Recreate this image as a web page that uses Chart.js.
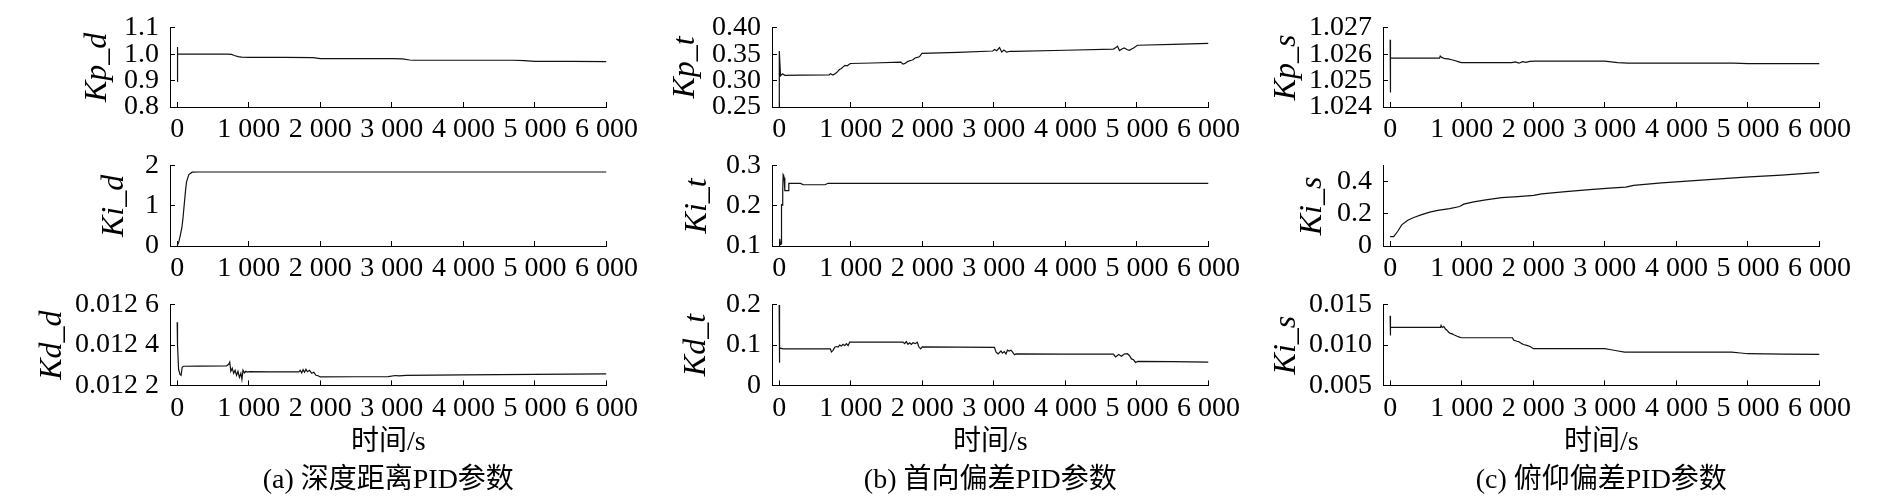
<!DOCTYPE html>
<html><head><meta charset="utf-8">
<script src="https://cdn.jsdelivr.net/npm/chart.js@4/dist/chart.umd.min.js"></script>
<style>
html,body{margin:0;padding:0;background:#fff;}
body{width:1890px;height:498px;overflow:hidden;position:relative;}
canvas{position:absolute;}
</style></head><body>
<script>
// ---------- data ----------
const xTicks = [0, 1000, 2000, 3000, 4000, 5000, 6000];
const xTickLabels = ['0', '1 000', '2 000', '3 000', '4 000', '5 000', '6 000'];

// (a) depth distance PID
const kpD_t = [0, 3, 8, 100, 400, 700, 760, 800, 850, 900, 1000, 1500, 1900, 2000, 2500, 3000, 3150, 3250, 3300, 4000, 4700, 4850, 5000, 5500, 6000];
const kpD_v = [0.897, 1.027, 1.0, 1.0, 1.0, 1.0, 0.999, 0.995, 0.991, 0.989, 0.988, 0.988, 0.987, 0.983, 0.983, 0.983, 0.982, 0.978, 0.977, 0.977, 0.977, 0.976, 0.973, 0.973, 0.972];
const kiD_t = [0, 20, 47, 65, 79, 98, 117, 131, 163, 210, 300, 6000];
const kiD_v = [0.015, 0.08, 0.29, 0.45, 0.65, 1.02, 1.38, 1.6, 1.78, 1.84, 1.845, 1.845];
const kdD_t = [0, 5, 20, 40, 55, 70, 90, 300, 690, 720, 735, 750, 770, 790, 810, 830, 850, 870, 890, 905, 920, 940, 960, 980, 1010, 1300, 1700, 1720, 1740, 1760, 1780, 1800, 1820, 1850, 1880, 1910, 1940, 1970, 2000, 2500, 2950, 3050, 3100, 3200, 4000, 5000, 6000];
const kdD_v = [0.012513, 0.0124, 0.01228, 0.012255, 0.01225, 0.01229, 0.012295, 0.012296, 0.012297, 0.012305, 0.012316, 0.01227, 0.012285, 0.01226, 0.012275, 0.01225, 0.01227, 0.01224, 0.01226, 0.01223, 0.012275, 0.012262, 0.01227, 0.012266, 0.012268, 0.012267, 0.012267, 0.012275, 0.012262, 0.012278, 0.012265, 0.01228, 0.012268, 0.012275, 0.01226, 0.012265, 0.01225, 0.012248, 0.012242, 0.012243, 0.012244, 0.012249, 0.012247, 0.01225, 0.012252, 0.012255, 0.012257];

// (b) heading deviation PID
const kpT_t = [0, 2, 19, 47, 79, 300, 700, 716, 753, 780, 800, 820, 835, 850, 870, 890, 920, 950, 995, 1300, 1700, 1730, 1760, 1790, 1820, 1850, 1870, 1900, 1930, 1960, 1995, 2500, 2986, 3010, 3040, 3080, 3110, 3140, 3180, 3230, 3290, 4000, 4672, 4700, 4728, 4756, 4790, 4823, 4860, 4896, 4925, 4952, 5008, 5500, 6000];
const kpT_v = [0.25, 0.356, 0.309, 0.313, 0.310, 0.3105, 0.311, 0.313, 0.3105, 0.313, 0.3148, 0.3175, 0.320, 0.3215, 0.323, 0.3255, 0.3286, 0.328, 0.3324, 0.3333, 0.335, 0.3313, 0.3325, 0.3355, 0.3375, 0.3385, 0.3395, 0.3429, 0.344, 0.345, 0.3516, 0.3535, 0.356, 0.3588, 0.3565, 0.3626, 0.354, 0.3578, 0.3538, 0.3556, 0.3555, 0.3575, 0.3596, 0.362, 0.365, 0.357, 0.360, 0.362, 0.359, 0.3574, 0.360, 0.3618, 0.367, 0.3685, 0.3705];
const kiT_t = [0, 5, 10, 20, 30, 33, 45, 50, 56, 62, 70, 79, 126, 135, 300, 335, 640, 684, 6000];
const kiT_v = [0.1, 0.108, 0.118, 0.104, 0.105, 0.203, 0.202, 0.24, 0.278, 0.276, 0.27, 0.238, 0.238, 0.256, 0.256, 0.2527, 0.2527, 0.2564, 0.2564];
const kdT_t = [0, 3, 8, 56, 400, 716, 730, 753, 777, 800, 823, 847, 870, 893, 916, 940, 963, 986, 1300, 1730, 1753, 1777, 1800, 1823, 1847, 1870, 1902, 1930, 1949, 1977, 2000, 2500, 3009, 3030, 3060, 3100, 3120, 3145, 3170, 3190, 3215, 3240, 3265, 3288, 3310, 4000, 4672, 4700, 4745, 4784, 4823, 4868, 4896, 4924, 4952, 4980, 5010, 5500, 6000];
const kdT_v = [0.2, 0.056, 0.093, 0.0905, 0.0905, 0.0905, 0.0832, 0.087, 0.0949, 0.0964, 0.0949, 0.1, 0.0978, 0.102, 0.0985, 0.1036, 0.0985, 0.1073, 0.1073, 0.1073, 0.1036, 0.1087, 0.102, 0.1058, 0.1015, 0.1058, 0.1036, 0.1073, 0.0964, 0.0905, 0.0955, 0.095, 0.0945, 0.0832, 0.078, 0.0853, 0.080, 0.0839, 0.078, 0.0875, 0.0853, 0.0875, 0.0817, 0.0759, 0.078, 0.0778, 0.0775, 0.0708, 0.0766, 0.0723, 0.078, 0.0786, 0.0737, 0.0657, 0.0635, 0.057, 0.0597, 0.0588, 0.0576];

// (c) pitch deviation PID
const kpS_t = [0, 3, 6, 300, 690, 700, 720, 765, 810, 860, 900, 950, 996, 1400, 1700, 1750, 1800, 1850, 1900, 1950, 2025, 2500, 2998, 3090, 3180, 3322, 4000, 4800, 5000, 6000];
const kpS_v = [1.02655, 1.02455, 1.02585, 1.02585, 1.02585, 1.02593, 1.02588, 1.02583, 1.02582, 1.02579, 1.02576, 1.02572, 1.02568, 1.02568, 1.02568, 1.02571, 1.02566, 1.02572, 1.02569, 1.02573, 1.02574, 1.02574, 1.02574, 1.02571, 1.02568, 1.02566, 1.02566, 1.02566, 1.02564, 1.02564];
const kiS_t = [0, 50, 106, 162, 246, 330, 441, 553, 665, 832, 972, 1028, 1168, 1335, 1559, 1782, 2006, 2117, 2453, 2788, 3067, 3291, 3402, 3793, 4352, 4911, 5022, 5469, 6000];
const kiS_v = [0.059, 0.059, 0.092, 0.132, 0.161, 0.178, 0.196, 0.211, 0.222, 0.233, 0.246, 0.261, 0.275, 0.288, 0.301, 0.308, 0.316, 0.325, 0.339, 0.352, 0.361, 0.367, 0.378, 0.393, 0.411, 0.428, 0.431, 0.442, 0.459];
const kdS_t = [0, 3, 6, 300, 704, 712, 727, 750, 774, 797, 820, 843, 866, 890, 913, 936, 960, 996, 1400, 1710, 1724, 1770, 1794, 1840, 1863, 1910, 1956, 2002, 2500, 2998, 3068, 3184, 3276, 4000, 4771, 4900, 4994, 5500, 6000];
const kdS_v = [0.01365, 0.0112, 0.01219, 0.01219, 0.01219, 0.01245, 0.01219, 0.0123, 0.012, 0.01182, 0.01157, 0.01146, 0.01139, 0.01128, 0.0112, 0.0111, 0.01102, 0.01091, 0.01091, 0.01091, 0.01062, 0.01048, 0.01044, 0.01018, 0.01007, 0.00996, 0.00982, 0.00956, 0.00956, 0.00956, 0.00945, 0.00927, 0.00912, 0.00912, 0.00912, 0.00902, 0.00893, 0.00888, 0.00886];

// y tick values and labels
const kpD_ticks = [0.8, 0.9, 1.0, 1.1];          const kpD_labels = ['0.8', '0.9', '1.0', '1.1'];
const kiD_ticks = [0, 1, 2];                     const kiD_labels = ['0', '1', '2'];
const kdD_ticks = [0.0122, 0.0124, 0.0126];      const kdD_labels = ['0.012 2', '0.012 4', '0.012 6'];
const kpT_ticks = [0.25, 0.30, 0.35, 0.40];      const kpT_labels = ['0.25', '0.30', '0.35', '0.40'];
const kiT_ticks = [0.1, 0.2, 0.3];               const kiT_labels = ['0.1', '0.2', '0.3'];
const kdT_ticks = [0, 0.1, 0.2];                 const kdT_labels = ['0', '0.1', '0.2'];
const kpS_ticks = [1.024, 1.025, 1.026, 1.027];  const kpS_labels = ['1.024', '1.025', '1.026', '1.027'];
const kiS_ticks = [0, 0.2, 0.4];                 const kiS_labels = ['0', '0.2', '0.4'];
const kdS_ticks = [0.005, 0.010, 0.015];         const kdS_labels = ['0.005', '0.010', '0.015'];

const axisTitles = ['Kp_d', 'Ki_d', 'Kd_d', 'Kp_t', 'Ki_t', 'Kd_t', 'Kp_s', 'Ki_s', 'Ki_s'];
const xAxisTitle = '时间/s';
const captions = ['(a) 深度距离PID参数', '(b) 首向偏差PID参数', '(c) 俯仰偏差PID参数'];

// ---------- layout ----------
const FONT = "'Liberation Serif', 'Noto Sans CJK SC', serif";
const TICK_SIZE = 28, YTITLE_SIZE = 32, TEXT_SIZE = 28;
const cols = [
  {canvasLeft: 20,   areaLeft: 170,  areaRight: 607},
  {canvasLeft: 640,  areaLeft: 772,  areaRight: 1209},
  {canvasLeft: 1250, areaLeft: 1383, areaRight: 1820}
];
const rows = [
  {top: 17,  bottom: 107, xH: 40,  capH: 0},
  {top: 155, bottom: 246, xH: 40,  capH: 0},
  {top: 294, bottom: 385, xH: 74,  capH: 38}
];
const PADTOP = 22, PADRIGHT = 42;

const panels = [
  {c:0, r:0, t:kpD_t, v:kpD_v, min:0.8,    max:1.1,    ticks:kpD_ticks, labels:kpD_labels, titleX: 97.5},
  {c:0, r:1, t:kiD_t, v:kiD_v, min:0,      max:2,      ticks:kiD_ticks, labels:kiD_labels, titleX: 114.5},
  {c:0, r:2, t:kdD_t, v:kdD_v, min:0.0122, max:0.0126, ticks:kdD_ticks, labels:kdD_labels, titleX: 53},
  {c:1, r:0, t:kpT_t, v:kpT_v, min:0.25,   max:0.40,   ticks:kpT_ticks, labels:kpT_labels, titleX: 685.5},
  {c:1, r:1, t:kiT_t, v:kiT_v, min:0.1,    max:0.3,    ticks:kiT_ticks, labels:kiT_labels, titleX: 698},
  {c:1, r:2, t:kdT_t, v:kdT_v, min:0,      max:0.2,    ticks:kdT_ticks, labels:kdT_labels, titleX: 697},
  {c:2, r:0, t:kpS_t, v:kpS_v, min:1.024,  max:1.027,  ticks:kpS_ticks, labels:kpS_labels, titleX: 1287},
  {c:2, r:1, t:kiS_t, v:kiS_v, min:0,      max:0.5,    ticks:kiS_ticks, labels:kiS_labels, titleX: 1313},
  {c:2, r:2, t:kdS_t, v:kdS_v, min:0.005,  max:0.015,  ticks:kdS_ticks, labels:kdS_labels, titleX: 1287}
];

panels.forEach((p, idx) => {
  const col = cols[p.c], row = rows[p.r];
  const cv = document.createElement('canvas');
  const W = col.areaRight + PADRIGHT - col.canvasLeft;
  const H = PADTOP + (row.bottom - row.top) + row.xH + row.capH;
  cv.width = W; cv.height = H;
  cv.style.left = col.canvasLeft + 'px';
  cv.style.top = (row.top - PADTOP) + 'px';
  cv.style.width = W + 'px'; cv.style.height = H + 'px';
  document.body.appendChild(cv);
  const yW = col.areaLeft - col.canvasLeft;
  const titleLH = YTITLE_SIZE * 1.2;
  const yTitlePad = Math.max(0, p.titleX - col.canvasLeft - titleLH / 2);
  const last = p.r === 2;
  new Chart(cv.getContext('2d'), {
    type: 'line',
    data: {
      datasets: [{
        data: p.t.map((x, i) => ({x: x, y: p.v[i]})),
        borderColor: '#111', borderWidth: 1.2, pointRadius: 0, fill: false, tension: 0
      }]
    },
    options: {
      responsive: false, animation: false, devicePixelRatio: 1,
      layout: {padding: {left: 0, right: PADRIGHT, top: PADTOP, bottom: 0}},
      plugins: {
        legend: {display: false}, tooltip: {enabled: false},
        title: last ? {
          display: true, text: captions[p.c], position: 'bottom', fullSize: false,
          color: '#000', font: {family: FONT, size: TEXT_SIZE, weight: 'normal', lineHeight: 1.2},
          padding: {top: 4, bottom: 0}
        } : {display: false}
      },
      scales: {
        x: {
          type: 'linear', min: -100, max: 6000,
          afterBuildTicks: s => { s.ticks = xTicks.map(v => ({value: v})); },
          afterFit: s => { s.height = row.xH; },
          ticks: {callback: (v, i) => xTickLabels[i], autoSkip: false, maxRotation: 0, minRotation: 0,
                  color: '#000', font: {family: FONT, size: TICK_SIZE, lineHeight: 1.2}, padding: 11},
          grid: {drawOnChartArea: false, drawTicks: true, tickLength: -5, color: '#000', lineWidth: 1},
          border: {display: true, color: '#000', width: 1},
          title: last ? {display: true, text: xAxisTitle, color: '#000',
                         font: {family: FONT, size: TEXT_SIZE, lineHeight: 1.2}, padding: {top: 0, bottom: 0}}
                      : {display: false}
        },
        y: {
          type: 'linear', min: p.min, max: p.max,
          afterBuildTicks: s => { s.ticks = p.ticks.map(v => ({value: v})); },
          afterFit: s => { s.width = yW; },
          ticks: {callback: (v, i) => p.labels[i], autoSkip: false, color: '#000',
                  font: {family: FONT, size: TICK_SIZE, lineHeight: 1.2}, padding: 16},
          grid: {drawOnChartArea: false, drawTicks: true, tickLength: -5, color: '#000', lineWidth: 1},
          border: {display: true, color: '#000', width: 1},
          title: {display: true, text: axisTitles[idx], color: '#000',
                  font: {family: FONT, size: YTITLE_SIZE, style: 'italic', lineHeight: 1.2},
                  padding: {top: yTitlePad, bottom: 0}}
        }
      }
    }
  });
});
</script>
</body></html>
